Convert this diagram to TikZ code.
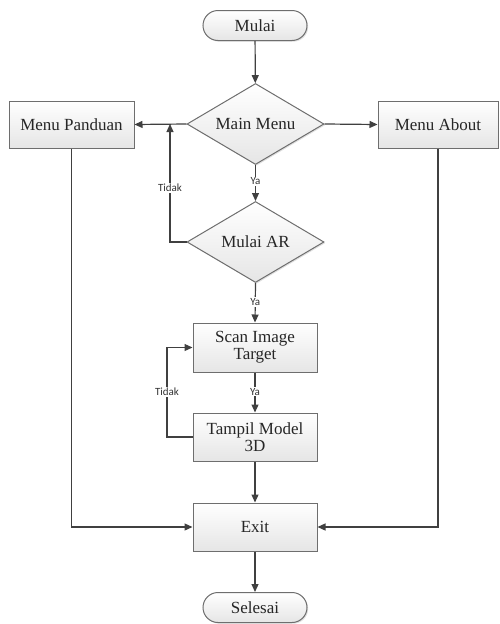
\documentclass[tikz,border=0pt]{standalone}
\usepackage{fontspec}
\setmainfont{Liberation Serif}
\newfontfamily\lblfont{Carlito}
\usetikzlibrary{shapes.geometric,arrows.meta,shadows,calc}
\definecolor{lineC}{HTML}{404040}
\definecolor{borderC}{HTML}{6E6E6E}
\tikzset{
  base/.style={draw=borderC, line width=1pt, top color=white, bottom color=gray!20,
    drop shadow={shadow xshift=1.2pt, shadow yshift=-1.2pt, opacity=0.25},
    font=\fontsize{17}{17}\selectfont, align=center, inner sep=0pt, text=black!85},
  procbox/.style={base, rectangle, minimum width=124pt, minimum height=48pt},
  termbox/.style={base, rectangle, rounded corners=15pt, minimum width=104pt, minimum height=30pt},
  decbox/.style={base, diamond, aspect=1.69, minimum width=137pt, minimum height=81pt},
  conn/.style={draw=lineC, line width=1.2pt, -{Triangle[length=8pt,width=7pt]}},
  plain/.style={draw=lineC, line width=1.2pt},
  lbl/.style={font=\lblfont\fontsize{11}{11}\selectfont, fill=white, inner sep=1pt, text=black!80}
}
\begin{document}
\begin{tikzpicture}[x=1pt,y=-1pt]
\useasboundingbox (0,0) rectangle (499,624);
\node[termbox] (mulai) at (255,25.5) {Mulai};
\node[decbox] (main) at (255.5,124) {Main Menu};
\node[procbox, minimum width=125pt, minimum height=47pt] (panduan) at (71.5,124.5) {Menu Panduan};
\node[procbox, minimum width=120pt, minimum height=47pt] (about) at (438,124.5) {Menu About};
\node[decbox] (ar) at (255.5,242) {Mulai AR};
\node[procbox, minimum height=49pt] (scan) at (255,347.5) {Scan Image\\Target};
\node[procbox] (tampil) at (255,437) {Tampil Model\\3D};
\node[procbox] (exit) at (255,527) {Exit};
\node[termbox] (selesai) at (255,607.5) {Selesai};

\coordinate (tj) at (170,124);
\coordinate (loopL) at (167,437);

\draw[conn] (mulai) -- (main);
\draw[conn] (main.west) -- (panduan.east);
\draw[conn] (main.east) -- (about.west);
\draw[conn] (main.south) -- node[lbl, pos=0.45] (ya1) {Ya} (ar.north);
\draw[conn] (ar.west) -| (tj);
\node[lbl] (tidak1) at (170,188) {Tidak};
\draw[conn] (ar.south) -- node[lbl, pos=0.48] (ya2) {Ya} (scan.north);
\draw[conn] (scan.south) -- node[lbl, pos=0.48] (ya3) {Ya} (tampil.north);
\draw[conn] (tampil.west) -- (loopL) |- (scan.west);
\node[lbl] (tidak2) at (167,392) {Tidak};
\draw[conn] (tampil.south) -- (exit.north);
\draw[conn] (panduan.south) |- (exit.west);
\draw[conn] (about.south) |- (exit.east);
\draw[conn] (exit.south) -- (selesai.north);
\end{tikzpicture}
\end{document}
